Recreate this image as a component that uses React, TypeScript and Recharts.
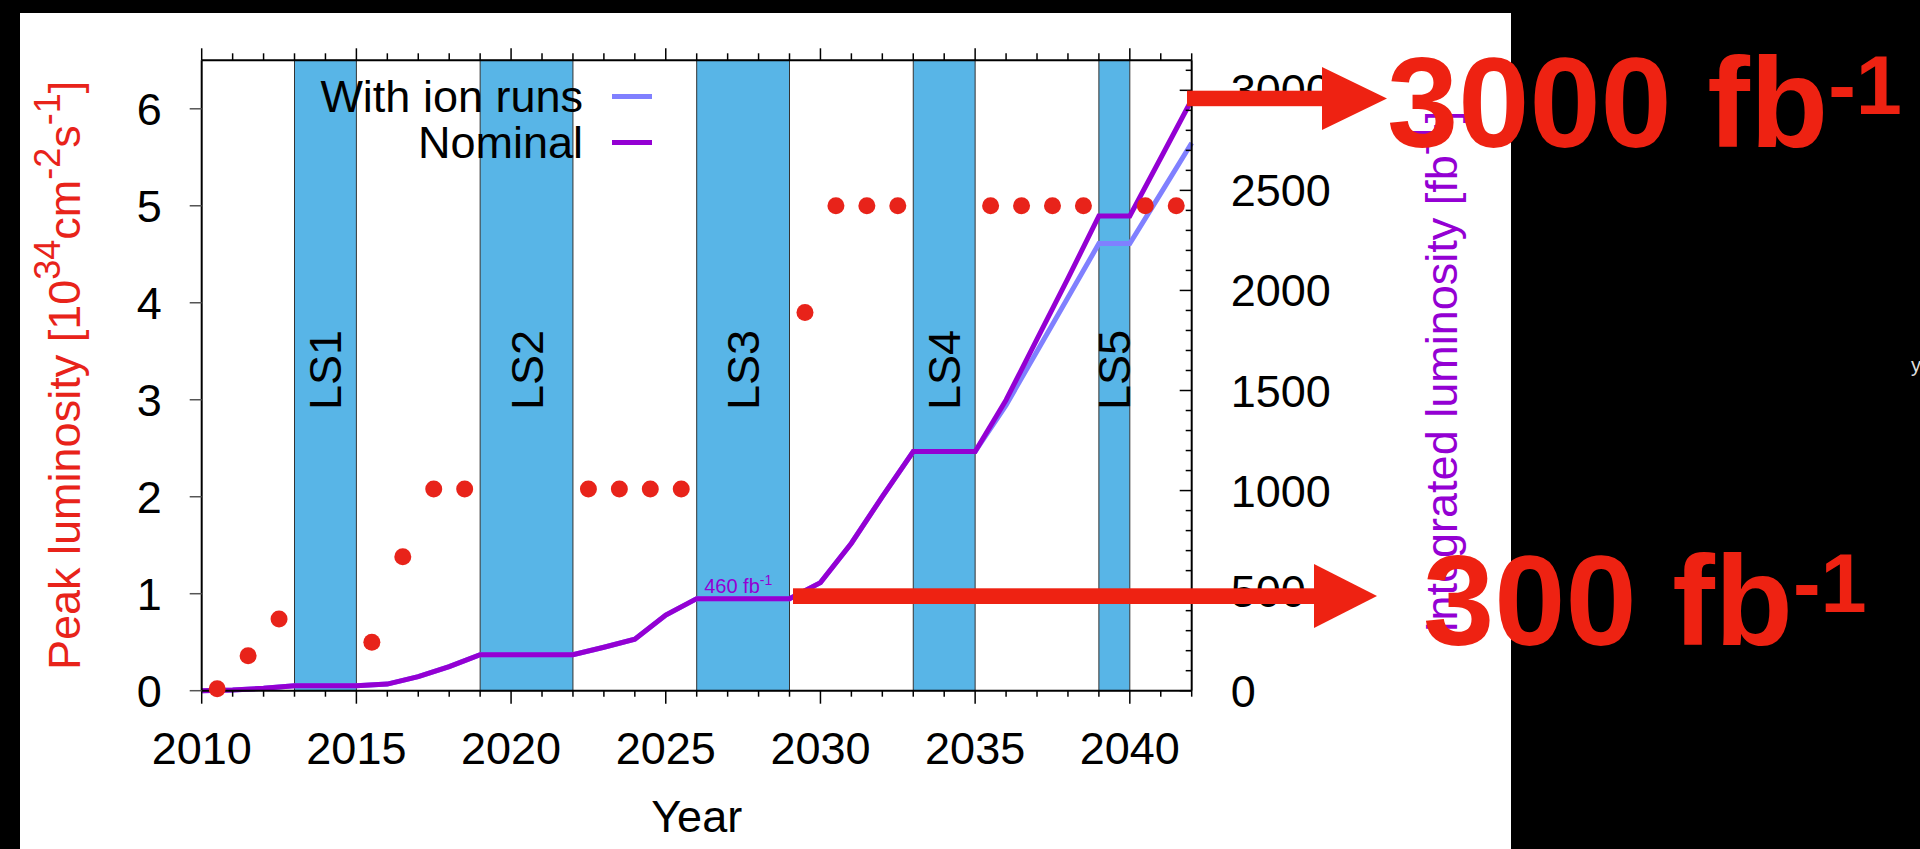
import React from "react";
import {
  ComposedChart,
  Line,
  Scatter,
  XAxis,
  YAxis,
  ReferenceArea,
  ReferenceDot,
  Legend,
  Label,
} from "recharts";

// integrated luminosity, one point per year boundary
const lumiYears = [
  2010, 2011, 2012, 2013, 2014, 2015, 2016, 2017, 2018, 2019, 2020, 2021, 2022,
  2023, 2024, 2025, 2026, 2027, 2028, 2029, 2030, 2031, 2032, 2033, 2034, 2035,
  2036, 2037, 2038, 2039, 2040, 2041, 2042,
];
const nominalLumi = [
  0, 4, 12, 25, 25, 25, 33, 70, 120, 180, 180, 180, 180, 217, 257, 378, 460,
  460, 460, 460, 540, 737, 970, 1195, 1195, 1195, 1453, 1757, 2060, 2372, 2372,
  2662, 2953,
];
const ionLumi = [
  0, 4, 12, 25, 25, 25, 33, 70, 120, 180, 180, 180, 180, 217, 257, 378, 460,
  460, 460, 460, 540, 737, 970, 1195, 1195, 1195, 1427, 1696, 1965, 2234, 2234,
  2485, 2737,
];

// peak luminosity, mid-year
const peakYears = [
  2010.5, 2011.5, 2012.5, 2015.5, 2016.5, 2017.5, 2018.5, 2022.5, 2023.5,
  2024.5, 2025.5, 2029.5, 2030.5, 2031.5, 2032.5, 2035.5, 2036.5, 2037.5,
  2038.5, 2040.5, 2041.5,
];
const peakLumi = [
  0.02, 0.36, 0.74, 0.5, 1.38, 2.08, 2.08, 2.08, 2.08, 2.08, 2.08, 3.9, 5, 5, 5,
  5, 5, 5, 5, 5, 5,
];

// long shutdowns
const lsNames = ["LS1", "LS2", "LS3", "LS4", "LS5"];
const lsStart = [2013, 2019, 2026, 2033, 2039];
const lsEnd = [2015, 2022, 2029, 2035, 2040];

const legendNames = ["With ion runs", "Nominal"];
const legendColors = ["#8080ff", "#9400d3"];

const yearTicks = Array.from({ length: 33 }, (_, i) => 2010 + i);
const peakTicks = [0, 1, 2, 3, 4, 5, 6];
const intTicks = Array.from({ length: 32 }, (_, i) => i * 100);

const lineData = lumiYears.map((year, i) => ({
  year,
  nominal: nominalLumi[i],
  ion: ionLumi[i],
}));
const peakData = peakYears.map((year, i) => ({ year, peak: peakLumi[i] }));

const FONT = "'Liberation Sans', Arial, Helvetica, sans-serif";
const RED = "#e8231a";
const PURPLE = "#9400d3";
const BAND = "#58b5e7";

const BottomTick = (props: any) => {
  const { x, y, payload } = props;
  const v = payload.value;
  const major = v % 5 === 0;
  return (
    <g>
      <line x1={x} x2={x} y1={y} y2={y + (major ? 13 : 6)} stroke="#000" strokeWidth={1.5} />
      {major && v <= 2040 && (
        <text x={x} y={y + 73} textAnchor="middle" fontSize={45} fontFamily={FONT} fill="#000">
          {v}
        </text>
      )}
    </g>
  );
};

const TopTick = (props: any) => {
  const { x, y, payload } = props;
  const major = payload.value % 5 === 0;
  return <line x1={x} x2={x} y1={y - (major ? 12 : 7)} y2={y} stroke="#000" strokeWidth={1.5} />;
};

const LeftTick = (props: any) => {
  const { x, y, payload } = props;
  return (
    <g>
      <line x1={x - 12} x2={x} y1={y} y2={y} stroke="#555" strokeWidth={1.5} />
      <text x={x - 40} y={y + 16} textAnchor="end" fontSize={45} fontFamily={FONT} fill="#000">
        {payload.value}
      </text>
    </g>
  );
};

const RightTick = (props: any) => {
  const { x, y, payload } = props;
  const v = payload.value;
  const major = v % 500 === 0;
  return (
    <g>
      <line x1={x - (major ? 12 : 6)} x2={x} y1={y} y2={y} stroke="#000" strokeWidth={1.5} />
      {major && (
        <text x={x + 39} y={y + 16} textAnchor="start" fontSize={45} fontFamily={FONT} fill="#000">
          {v}
        </text>
      )}
    </g>
  );
};

const renderLegend = () => (
  <div style={{ fontFamily: FONT, fontSize: 45, color: "#000" }}>
    {legendNames.map((name, i) => (
      <div
        key={name}
        style={{ display: "flex", justifyContent: "flex-end", alignItems: "center", height: 45.6 }}
      >
        <span style={{ lineHeight: 1 }}>{name}</span>
        <span style={{ display: "inline-block", width: 40, height: 5, marginLeft: 29, background: legendColors[i] }} />
      </div>
    ))}
  </div>
);

export default function App() {
  return (
    <div
      style={{
        position: "absolute",
        left: 0,
        top: 0,
        width: 1920,
        height: 849,
        background: "#000",
        overflow: "hidden",
      }}
    >
      <div style={{ position: "absolute", left: 20, top: 13, width: 1491, height: 836, background: "#fff" }} />
      <div style={{ position: "absolute", left: 0, top: 0 }}>
        <ComposedChart
          width={1920}
          height={849}
          data={lineData}
          margin={{ top: 40.3, right: 628.3, bottom: 58.3, left: 101.7 }}
        >
          <XAxis
            xAxisId="bottom"
            dataKey="year"
            type="number"
            domain={[2010, 2042]}
            ticks={yearTicks}
            interval={0}
            height={100}
            tickSize={0}
            tickMargin={0}
            tickLine={false}
            tick={<BottomTick />}
            axisLine={{ stroke: "#000", strokeWidth: 2 }}
          >
            <Label
              content={() => (
                <text x={696.7} y={832} textAnchor="middle" fontSize={45} fontFamily={FONT} fill="#000">
                  Year
                </text>
              )}
            />
          </XAxis>
          <XAxis
            xAxisId="top"
            orientation="top"
            dataKey="year"
            type="number"
            domain={[2010, 2042]}
            ticks={yearTicks}
            interval={0}
            height={20}
            tickSize={0}
            tickMargin={0}
            tickLine={false}
            tick={<TopTick />}
            axisLine={{ stroke: "#000", strokeWidth: 2 }}
          />
          <YAxis
            yAxisId="left"
            domain={[0, 6.5]}
            ticks={peakTicks}
            interval={0}
            width={100}
            tickSize={0}
            tickMargin={0}
            tickLine={false}
            tick={<LeftTick />}
            axisLine={{ stroke: "#000", strokeWidth: 2 }}
          >
            <Label
              content={() => (
                <text
                  x={80}
                  y={670}
                  transform="rotate(-90, 80, 670)"
                  textAnchor="start"
                  fontSize={45}
                  fontFamily={FONT}
                  fill={RED}
                >
                  Peak luminosity [10
                  <tspan dy={-20} fontSize={36}>34</tspan>
                  <tspan dy={20}>cm</tspan>
                  <tspan dy={-20} fontSize={36}>-2</tspan>
                  <tspan dy={20}>s</tspan>
                  <tspan dy={-20} fontSize={36}>-1</tspan>
                  <tspan dy={20}>]</tspan>
                </text>
              )}
            />
          </YAxis>
          <YAxis
            yAxisId="right"
            orientation="right"
            domain={[0, 3150]}
            ticks={intTicks}
            interval={0}
            width={100}
            tickSize={0}
            tickMargin={0}
            tickLine={false}
            tick={<RightTick />}
            axisLine={{ stroke: "#000", strokeWidth: 2 }}
          >
            <Label
              content={() => (
                <text
                  x={1457}
                  y={633}
                  transform="rotate(-90, 1457, 633)"
                  textAnchor="start"
                  fontSize={45}
                  fontFamily={FONT}
                  fill={PURPLE}
                >
                  Integrated luminosity [fb
                  <tspan dy={-20} fontSize={36}>-1</tspan>
                  <tspan dy={20}>]</tspan>
                </text>
              )}
            />
          </YAxis>

          {lsNames.map((name, i) => (
            <ReferenceArea
              key={name}
              xAxisId="bottom"
              yAxisId="left"
              x1={lsStart[i]}
              x2={lsEnd[i]}
              y1={0}
              y2={6.5}
              fill={BAND}
              fillOpacity={1}
              stroke="#333"
              strokeWidth={1}
              label={(p: any) => {
                const vb = p.viewBox;
                const cx = vb.x + vb.width / 2;
                return (
                  <text
                    x={cx + 16}
                    y={370}
                    transform={`rotate(-90, ${cx + 16}, 370)`}
                    textAnchor="middle"
                    fontSize={45}
                    fontFamily={FONT}
                    fill="#000"
                  >
                    {name}
                  </text>
                );
              }}
            />
          ))}

          <Line
            xAxisId="bottom"
            yAxisId="right"
            type="linear"
            dataKey="ion"
            name="With ion runs"
            stroke={legendColors[0]}
            strokeWidth={5}
            dot={false}
            activeDot={false}
            isAnimationActive={false}
          />
          <Line
            xAxisId="bottom"
            yAxisId="right"
            type="linear"
            dataKey="nominal"
            name="Nominal"
            stroke={legendColors[1]}
            strokeWidth={5}
            dot={false}
            activeDot={false}
            isAnimationActive={false}
          />
          <Scatter
            xAxisId="bottom"
            yAxisId="left"
            data={peakData}
            dataKey="peak"
            fill={RED}
            isAnimationActive={false}
            shape={(p: any) => <circle cx={p.cx} cy={p.cy} r={8.5} fill={RED} />}
          />
          <ReferenceDot
            xAxisId="bottom"
            yAxisId="right"
            x={2026}
            y={460}
            r={0}
            fill="none"
            stroke="none"
            label={(p: any) => {
              const vb = p.viewBox;
              return (
                <text x={vb.x + 7.5} y={vb.y - 6} fontSize={20} fontFamily={FONT} fill={PURPLE}>
                  460 fb
                  <tspan dy={-8} fontSize={14}>-1</tspan>
                </text>
              );
            }}
          />
          <Legend
            layout="vertical"
            align="center"
            verticalAlign="middle"
            content={renderLegend}
            wrapperStyle={{ position: "absolute", top: 73.9, left: 200, width: 452 }}
          />
        </ComposedChart>
      </div>

      <svg
        width={1920}
        height={849}
        style={{ position: "absolute", left: 0, top: 0, pointerEvents: "none" }}
      >
        <rect x={1187} y={90.7} width={137} height={15.5} fill="#ee2212" />
        <polygon points="1322,67 1387,98.4 1322,130" fill="#ee2212" />
        <rect x={793} y={588.3} width={522} height={15.7} fill="#ee2212" />
        <polygon points="1314,564 1377,596 1314,628" fill="#ee2212" />
        <text x={1387} y={147} fontSize={128} fontWeight="bold" fontFamily={FONT} fill="#ee2212">
          3000 fb
          <tspan dy={-33} fontSize={83}>-1</tspan>
        </text>
        <text x={1423} y={645} fontSize={128} fontWeight="bold" fontFamily={FONT} fill="#ee2212">
          300 fb
          <tspan dy={-33} fontSize={83}>-1</tspan>
        </text>
        <text x={1911} y={372} fontSize={20} fontFamily={FONT} fill="#ddd">
          y
        </text>
      </svg>
    </div>
  );
}
